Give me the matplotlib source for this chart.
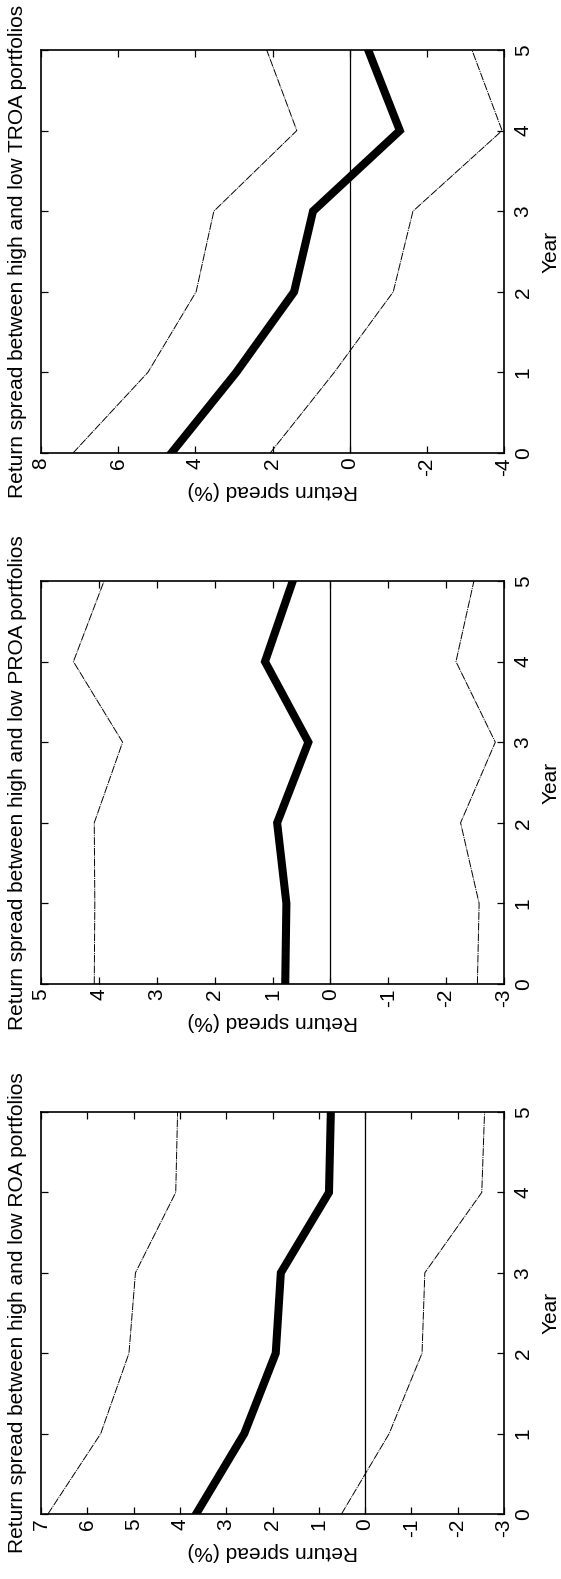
import matplotlib
matplotlib.use("Agg")
import matplotlib.pyplot as plt

plt.rcParams['font.family'] = ['Liberation Sans', 'DejaVu Sans']

years = [0, 1, 2, 3, 4, 5]

roa_mid = [3.65, 2.61, 1.93, 1.82, 0.78, 0.74]
roa_hi = [6.85, 5.71, 5.10, 4.96, 4.09, 4.05]
roa_lo = [0.51, -0.52, -1.23, -1.29, -2.52, -2.58]

proa_mid = [0.78, 0.76, 0.92, 0.38, 1.13, 0.65]
proa_hi = [4.08, 4.07, 4.08, 3.59, 4.44, 3.91]
proa_lo = [-2.54, -2.57, -2.25, -2.85, -2.17, -2.48]

troa_mid = [4.62, 2.94, 1.44, 0.95, -1.30, -0.48]
troa_hi = [7.17, 5.23, 3.98, 3.52, 1.37, 2.15]
troa_lo = [2.06, 0.40, -1.13, -1.64, -3.95, -3.17]

titles = ["Return spread between high and low TROA portfolios",
          "Return spread between high and low PROA portfolios",
          "Return spread between high and low ROA portfolios"]
spread_ticks = [[-4, -2, 0, 2, 4, 6, 8],
                [-3, -2, -1, 0, 1, 2, 3, 4, 5],
                [-3, -2, -1, 0, 1, 2, 3, 4, 5, 6, 7]]
spread_lims = [(8, -4), (5, -3), (7, -3)]
series = [(troa_mid, troa_hi, troa_lo),
          (proa_mid, proa_hi, proa_lo),
          (roa_mid, roa_hi, roa_lo)]

W, H = 561, 1579
fig = plt.figure(figsize=(W / 100, H / 100), dpi=100)

# axes boxes in pixels (top, bottom)
boxes = [(50, 453), (581, 984), (1112, 1514)]
left_px, right_px = 41, 504
FS = 15

for i in range(3):
    top, bot = boxes[i]
    ax = fig.add_axes([left_px / W, 1 - bot / H, (right_px - left_px) / W, (bot - top) / H])
    mid, hi, lo = series[i]
    ax.axvline(0, color='black', lw=0.9, zorder=1)
    ax.plot(hi, years, color='black', lw=0.7, ls=(0, (8, 1, 1, 1)), zorder=2)
    ax.plot(lo, years, color='black', lw=0.7, ls=(0, (8, 1, 1, 1)), zorder=2)
    ax.plot(mid, years, color='black', lw=5.8, solid_joinstyle='miter', zorder=3)
    ax.set_xlim(*spread_lims[i])
    ax.set_ylim(0, 5)
    ax.set_xticks(spread_ticks[i])
    ax.set_xticklabels([str(t) for t in spread_ticks[i]])
    ax.set_yticks(years)
    ax.set_yticklabels([str(y) for y in years])
    ax.tick_params(direction='in', length=5, width=0.9, top=True, bottom=True,
                   left=True, right=True, labelleft=False, labelright=True,
                   labelsize=FS)
    ax.tick_params(axis='x', pad=3)
    ax.tick_params(axis='y', pad=7)
    for lab in ax.get_xticklabels():
        lab.set_rotation(90)
        lab.set_ha('center')
        lab.set_va('top')
    for lab in ax.get_yticklabels():
        lab.set_rotation(90)
        lab.set_ha('left')
        lab.set_va('center')
    for s in ax.spines.values():
        s.set_linewidth(1.2)
    ax.set_xlabel("Return spread (%)", fontsize=FS, rotation=180, labelpad=4)
    ax.yaxis.set_label_position('right')
    ax.set_ylabel("Year", fontsize=FS, rotation=90, labelpad=6, va='top')
    ax.annotate(titles[i], xy=(0, 0.5), xycoords='axes fraction',
                xytext=(-14, 0), textcoords='offset pixels',
                rotation=90, ha='right', va='center', fontsize=FS)

fig.savefig("out.png", dpi=100)
